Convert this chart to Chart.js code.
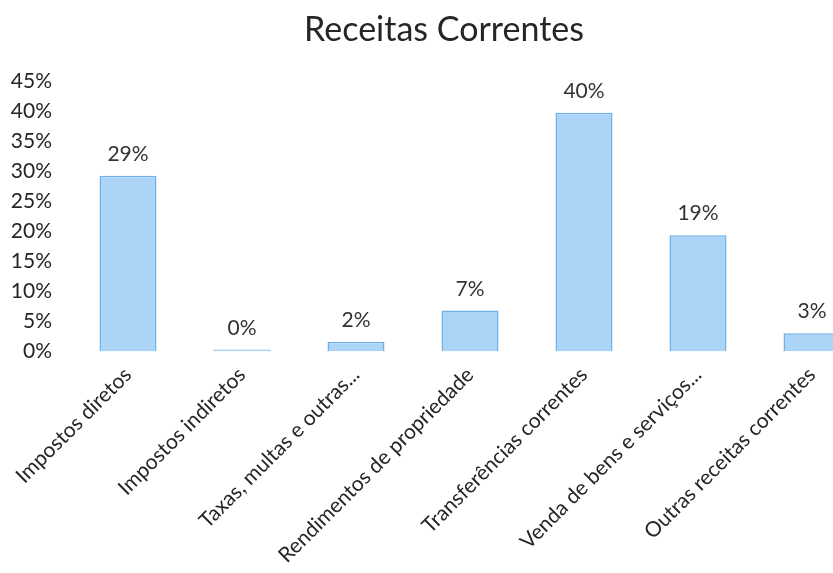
<!DOCTYPE html>
<html>
<head>
<meta charset="utf-8">
<title>Receitas Correntes</title>
<script src="https://cdn.jsdelivr.net/npm/chart.js@4/dist/chart.umd.min.js"></script>
<style>
  html, body { margin: 0; padding: 0; background: #fff; overflow: hidden; }
  #wrap { width: 886px; height: 573px; }
</style>
</head>
<body>
<div id="wrap"><canvas id="receitasChart"></canvas></div>
<script>
// Receitas correntes por natureza (% do total)
const categorias = [
  "Impostos diretos",
  "Impostos indiretos",
  "Taxas, multas e outras...",
  "Rendimentos de propriedade",
  "Transferências correntes",
  "Venda de bens e serviços...",
  "Outras receitas correntes"
];
const percentagens = [29.2, 0.3, 1.6, 6.8, 39.7, 19.3, 3.0];
const ticksY = [0, 5, 10, 15, 20, 25, 30, 35, 40, 45];

const FONT = "Lato, 'Open Sans', sans-serif";

// value labels above each bar
const rotulosPlugin = {
  id: "rotulos",
  afterDatasetsDraw(chart) {
    const ctx = chart.ctx;
    const meta = chart.getDatasetMeta(0);
    ctx.save();
    ctx.font = "21px " + FONT;
    ctx.fillStyle = "#333";
    ctx.textAlign = "center";
    ctx.textBaseline = "alphabetic";
    meta.data.forEach((bar, i) => {
      ctx.fillText(Math.round(percentagens[i]) + "%", bar.x, bar.y - 15);
    });
    ctx.restore();
  }
};

document.addEventListener("DOMContentLoaded", () => {
  const ctx = document.getElementById("receitasChart");

  new Chart(ctx, {
    type: "bar",
    data: {
      labels: categorias,
      datasets: [{
        data: percentagens,
        backgroundColor: "rgba(172, 212, 246, 1)",
        borderColor: "rgba(112, 178, 232, 1)",
        borderWidth: 1.5,
        barPercentage: 0.5,
        categoryPercentage: 1.0
      }]
    },
    options: {
      responsive: true,
      maintainAspectRatio: false,
      animation: false,
      layout: { padding: { left: 9, right: 7, top: 0, bottom: 2 } },
      plugins: {
        legend: { display: false },
        tooltip: { enabled: false },
        title: {
          display: true,
          text: "Receitas Correntes",
          color: "#262626",
          font: { family: FONT, size: 34, weight: "normal" },
          padding: { top: 10, bottom: 30 }
        }
      },
      scales: {
        x: {
          grid: { display: false },
          border: { display: false },
          // rotated labels hang past the plot on the left; keep a fixed gap on the right
          afterFit: scale => { scale.paddingLeft = 0; scale.paddingRight = 17; },
          ticks: {
            color: "#262626",
            font: { family: FONT, size: 21 },
            maxRotation: 45,
            minRotation: 45,
            autoSkip: false
          }
        },
        y: {
          min: 0,
          max: 45,
          afterBuildTicks: axis => { axis.ticks = ticksY.map(v => ({ value: v })); },
          afterFit: axis => { axis.width = 62; },
          grid: { display: false, drawTicks: false },
          border: { display: false },
          ticks: {
            color: "#262626",
            padding: 19,
            font: { family: FONT, size: 21 },
            callback: v => v + "%"
          }
        }
      }
    },
    plugins: [rotulosPlugin]
  });
});
</script>
</body>
</html>
